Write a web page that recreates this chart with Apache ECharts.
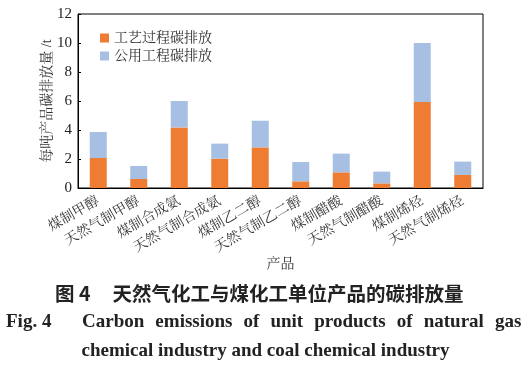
<!DOCTYPE html>
<html>
<head>
<meta charset="utf-8">
<script src="https://cdn.jsdelivr.net/npm/echarts@6/dist/echarts.min.js"></script>
<style>
html,body{margin:0;padding:0;background:#fff;}
#chart{width:531px;height:374px;}
</style>
</head>
<body>
<div id="chart"></div>
<script>
const categories = ['煤制甲醇','天然气制甲醇','煤制合成氨','天然气制合成氨','煤制乙二醇','天然气制乙二醇','煤制醋酸','天然气制醋酸','煤制烯烃','天然气制烯烃'];
const processEmission = [2.07, 0.62, 4.18, 2.02, 2.80, 0.46, 1.08, 0.32, 5.93, 0.90];
const utilityEmission = [1.79, 0.90, 1.82, 1.04, 1.84, 1.33, 1.29, 0.81, 4.07, 0.92];
const seriesNames = ['工艺过程碳排放', '公用工程碳排放'];
const yTicks = [0, 2, 4, 6, 8, 10, 12];

const serif = '"Liberation Serif","Noto Serif CJK SC","Noto Sans CJK SC",serif';
const sp = '\u2002\u200A';
const line2 = ['Carbon','emissions','of','unit','products','of','natural','gas'].join(sp);
const chart = echarts.init(document.getElementById('chart'));
chart.setOption({
  animation: false,
  backgroundColor: '#fff',
  title: [
    {text: '图 4     天然气化工与煤化工单位产品的碳排放量', left: 50, top: 279,
     textStyle: {fontSize: 19.5, fontWeight: 'bold', color: '#222', fontFamily: '"Noto Sans CJK SC",sans-serif'}},
    {text: 'Fig. 4', left: 1, top: 308,
     textStyle: {fontSize: 19, fontWeight: 'bold', color: '#222', fontFamily: serif}},
    {text: line2, left: 77, top: 308,
     textStyle: {fontSize: 19, fontWeight: 'bold', color: '#222', fontFamily: serif}},
    {text: 'chemical industry and coal chemical industry', left: 'center', top: 337,
     textStyle: {fontSize: 19, fontWeight: 'bold', color: '#222', fontFamily: serif}}
  ],
  grid: {left: 78, right: 48, top: 14, bottom: 186, show: true, borderColor: '#000', borderWidth: 1, backgroundColor: 'transparent'},
  legend: {
    orient: 'vertical', left: 95, top: 26, itemWidth: 9, itemHeight: 9, itemGap: 4,
    icon: 'rect',
    textStyle: {fontSize: 14, color: '#333', fontFamily: serif},
    data: seriesNames
  },
  xAxis: {
    type: 'category', data: categories,
    axisLine: {lineStyle: {color: '#000'}},
    axisTick: {show: false},
    axisLabel: {rotate: 30, fontSize: 14, color: '#333', fontFamily: serif, margin: 12, interval: 0},
    name: '产品', nameLocation: 'middle', nameGap: 54,
    nameTextStyle: {fontSize: 14, color: '#333', fontFamily: serif}
  },
  yAxis: {
    type: 'value', min: yTicks[0], max: yTicks[yTicks.length - 1], interval: 2,
    splitLine: {show: false},
    axisLine: {show: true, lineStyle: {color: '#000'}},
    axisTick: {show: true, inside: true, length: 3, lineStyle: {color: '#000'}},
    axisLabel: {fontSize: 15, color: '#222', fontFamily: serif, margin: 6},
    name: '每吨产品碳排放量 /t', nameLocation: 'middle', nameGap: 24, nameMoveOverlap: false,
    nameTextStyle: {fontSize: 14, color: '#333', fontFamily: serif}
  },
  series: [
    {name: seriesNames[0], type: 'bar', stack: 'total', data: processEmission, barWidth: 17,
     itemStyle: {color: '#EF7C33'}},
    {name: seriesNames[1], type: 'bar', stack: 'total', data: utilityEmission, barWidth: 17,
     itemStyle: {color: '#A6BFE2'}}
  ]
});
</script>
</body>
</html>
